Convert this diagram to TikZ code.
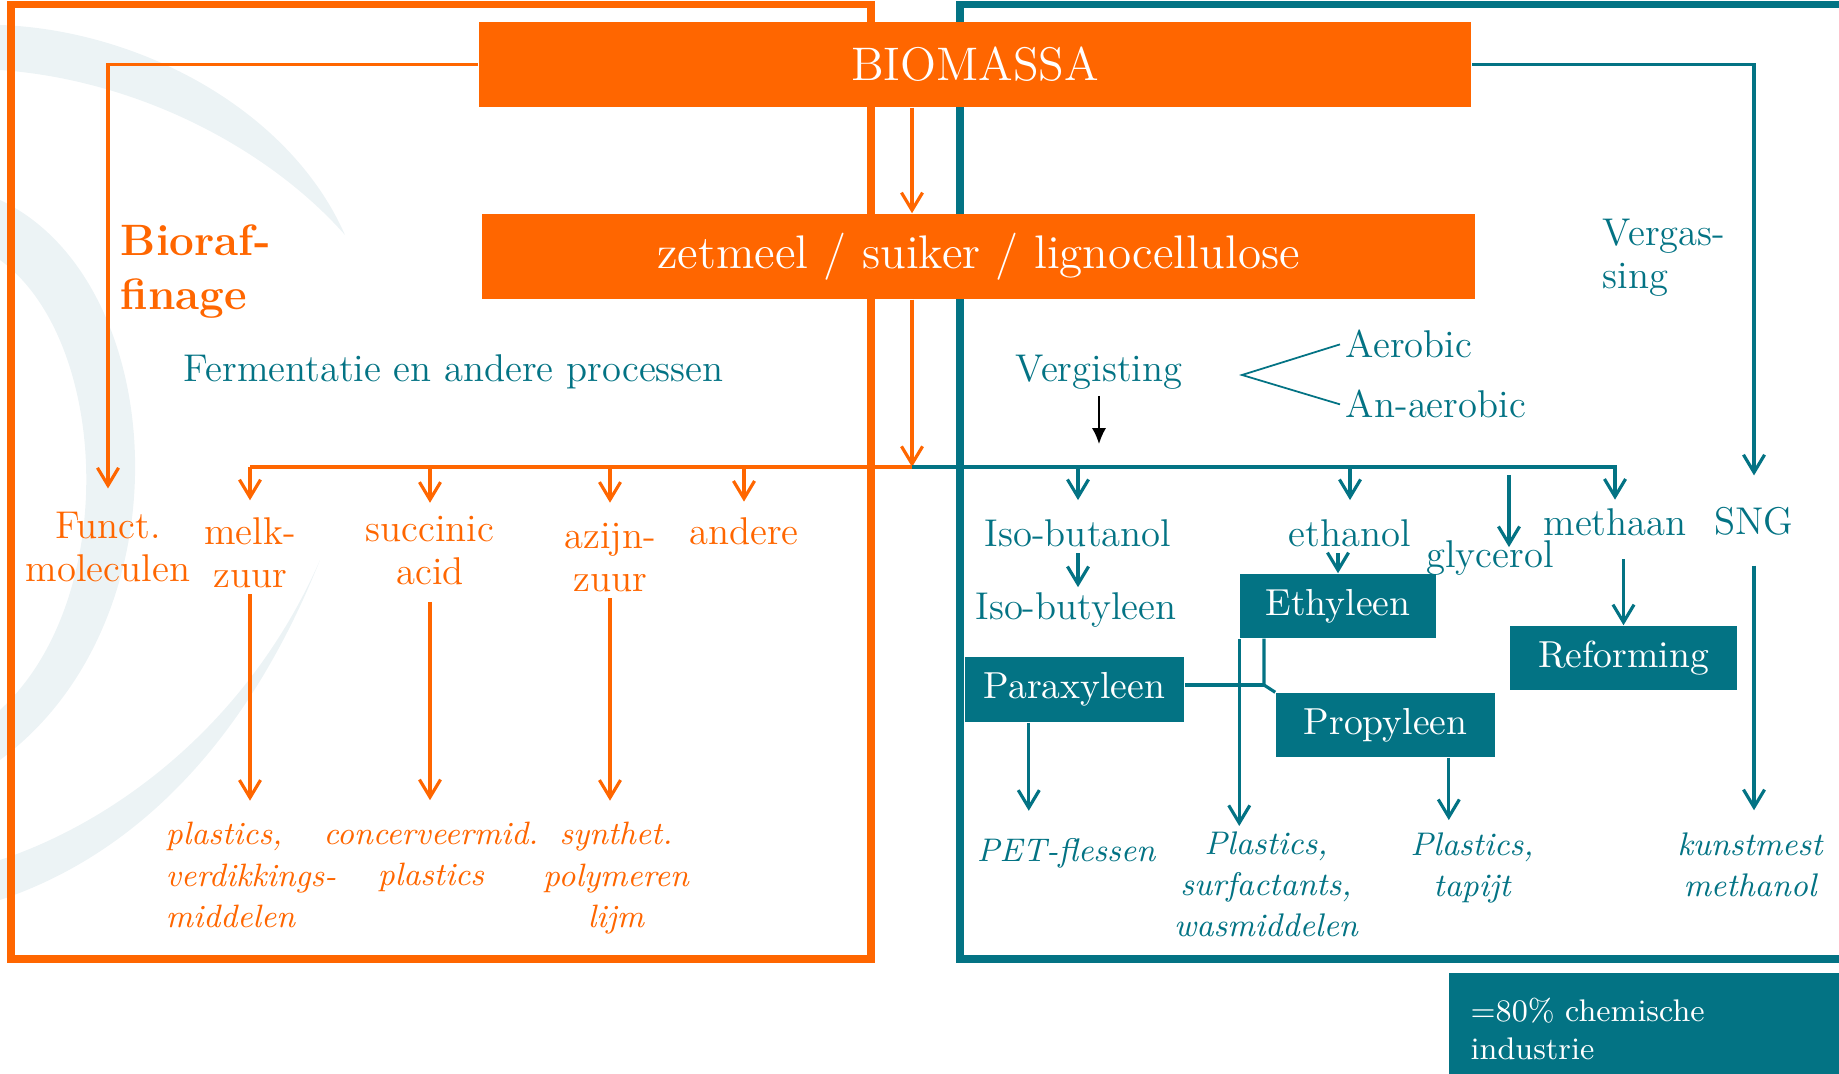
\documentclass[tikz,border=0pt]{standalone}
\usepackage{tikz}
\usetikzlibrary{arrows.meta}
\definecolor{bioorange}{RGB}{255,102,0}
\definecolor{bioteal}{RGB}{3,115,132}
\definecolor{swirl}{RGB}{236,243,245}
\tikzset{
	obox/.style={fill=bioorange, text=white, inner sep=0pt},
	tbox/.style={fill=bioteal, text=white, inner sep=0pt, font=\fontsize{10.7}{12}\selectfont},
	olabel/.style={text=bioorange, align=center, inner sep=1.5pt, font=\fontsize{11}{12.5}\selectfont},
	tlabel/.style={text=bioteal, align=center, inner sep=1.5pt, font=\fontsize{11}{12.5}\selectfont},
	oprod/.style={text=bioorange, align=center, inner sep=1.5pt, font=\fontsize{9.2}{11.8}\selectfont\itshape},
	tprod/.style={text=bioteal, align=center, inner sep=1.5pt, font=\fontsize{9.3}{11.7}\selectfont\itshape},
	oline/.style={draw=bioorange, line width=0.9pt},
	tline/.style={draw=bioteal, line width=0.9pt},
	oarr/.style={oline, -{Straight Barb[length=5pt,width=6pt]}},
	tarr/.style={tline, -{Straight Barb[length=5pt,width=6pt]}},
	barr/.style={draw=black, line width=0.45pt, -{Latex[length=4.5pt,width=4pt]}}
}

\begin{document}
\begin{tikzpicture}[x=0.01cm, y=-0.01cm]
			%%%%% START %%%%%
			\useasboundingbox (0,0) rectangle (1839,1074);
			
			% watermark
			\fill[swirl] (0,25) .. controls (140,30) and (290,110) .. (345,235) .. controls (270,150) and (140,80) .. (0,70) -- cycle;
			\fill[swirl] (0,200) .. controls (170,280) and (190,620) .. (0,760) -- (0,710) .. controls (120,600) and (110,340) .. (0,260) -- cycle;
			\fill[swirl] (0,860) .. controls (120,820) and (250,720) .. (320,560) .. controls (240,760) and (120,860) .. (0,900) -- cycle;
			
			% frames
			\draw[bioorange, line width=2pt] (11,5) rectangle (871,959);
			\draw[bioteal, line width=2pt] (960,5) rectangle (1860,959);
			
			\node[obox, minimum width=9.92cm, minimum height=0.85cm, font=\fontsize{13.4}{16}\selectfont] (bio) at (975,64.5) {BIOMASSA};
			\node[obox, minimum width=9.93cm, minimum height=0.85cm, font=\fontsize{13.4}{16}\selectfont] (zet) at (978.5,256.5) {zetmeel / suiker / lignocellulose};
			
			% left: bioraffinage
			\node[olabel, align=left, anchor=base west, font=\bfseries\fontsize{12.5}{15.6}\selectfont] (biora) at (115,310) {Bioraf-\\finage};
			\node[tlabel, anchor=base west] (ferm) at (178,382) {Fermentatie en andere processen};
			
			\node[olabel, anchor=base] (funct) at (108,582) {Funct.\\moleculen};
			\node[olabel, anchor=base] (melk) at (250,588) {melk-\\zuur};
			\node[olabel, anchor=base] (succ) at (430,585) {succinic\\acid};
			\node[olabel, anchor=base] (azijn) at (610,592) {azijn-\\zuur};
			\node[olabel, anchor=base] (andere) at (744,545) {andere};
			
			\node[oprod, align=left, anchor=base west] (plas1) at (160,928) {plastics,\\verdikkings-\\middelen};
			\node[oprod, anchor=base] (cons) at (431,886) {concerveermid.\\plastics};
			\node[oprod, anchor=base] (synth) at (616,928) {synthet.\\polymeren\\lijm};
			
			\coordinate (split) at (912,467);
			\draw[oarr, shorten >=4.9pt] (bio.west) -| (funct.north);
			\draw[oarr] (bio.south -| split) -- (zet.north -| split);
			\draw[oarr] (zet.south -| split) -- (split);
			\draw[oline] (split) -- (split -| melk);
			\draw[oarr, shorten >=3.1pt] (split -| melk) -- (melk.north);
			\draw[oarr, shorten >=2pt] (split -| succ) -- (succ.north);
			\draw[oarr, shorten >=4pt] (split -| azijn) -- (azijn.north);
			\draw[oarr, shorten >=3pt] (split -| andere) -- (andere.north);
			
			\draw[oarr, shorten >=4.5pt] (melk.south) -- (melk.south |- plas1.north);
			\draw[oarr, shorten <=3pt, shorten >=4.5pt] (succ.south) -- (succ.south |- cons.north);
			\draw[oarr, shorten >=4.5pt] (azijn.south) -- (azijn.south |- synth.north);
			
			% right: chemie
			\node[tlabel, align=left, anchor=base west] (vergas) at (1597,289) {Vergas-\\sing};
			\node[tlabel, anchor=base] (vergist) at (1099,382) {Vergisting};
			\node[tlabel, anchor=base west] (aer) at (1340,358) {Aerobic};
			\node[tlabel, anchor=base west] (anaer) at (1340,418) {An-aerobic};
			\coordinate (vtx) at (1242,375);
			\draw[bioteal, line width=0.5pt] (aer.west) -- (vtx) -- (anaer.west);
			\coordinate (vtip) at (1099,444);
			\draw[barr] (vergist.south) -- (vtip);
			
			\node[tlabel, anchor=base] (isobn) at (1078,547) {Iso-butanol};
			\node[tlabel, anchor=base] (ethan) at (1350,547) {ethanol};
			\node[tlabel, anchor=base] (glyc) at (1490,568) {glycerol};
			\node[tlabel, anchor=base] (meth) at (1615,536) {methaan};
			\node[tlabel, anchor=base] (sng) at (1754,535) {SNG};
			\node[tlabel, anchor=base] (isobl) at (1076,620) {Iso-butyleen};
			
			\node[tbox, minimum width=1.96cm, minimum height=0.64cm] (ethy) at (1338,606) {Ethyleen};
			\node[tbox, minimum width=2.19cm, minimum height=0.65cm] (para) at (1074.5,689.5) {Paraxyleen};
			\node[tbox, minimum width=2.19cm, minimum height=0.64cm] (prop) at (1385.5,725) {Propyleen};
			\node[tbox, minimum width=2.27cm, minimum height=0.64cm] (refo) at (1623.5,658) {Reforming};
			
			\node[tprod, anchor=base] (pet) at (1066,862) {PET-flessen};
			\node[tprod, anchor=base] (plas2) at (1266,937) {Plastics,\\surfactants,\\wasmiddelen};
			\node[tprod, anchor=base] (plas3) at (1472,897) {Plastics,\\tapijt};
			\node[tprod, anchor=base] (kunst) at (1750,897) {kunstmest\\methanol};
			
			\draw[tarr, shorten >=7.5pt] (bio.east) -| (sng.north);
			\draw[tarr, shorten >=1pt] (split) -| (meth.north);
			\draw[tarr, shorten >=4pt] (split -| isobn) -- (isobn.north);
			\draw[tarr, shorten >=4pt] (split -| ethan) -- (ethan.north);
			\coordinate (gtop) at (1509,475);
			\draw[tarr, shorten >=-3.4pt] (gtop) -- (gtop |- glyc.north);
			
			\draw[tarr] (isobn.south) -- (isobn.south |- isobl.north);
			\draw[tarr] (ethy.north |- ethan.south) -- (ethy.north);
			\draw[tarr, shorten <=4.8pt] (refo.north |- meth.south) -- (refo.north);
			\draw[tarr, shorten <=6.8pt, shorten >=4.8pt] (sng.south) -- (sng.south |- kunst.north);
			
			\coordinate (knot) at (1264,685);
			\draw[tline] (para.east |- knot) -- (knot);
			\draw[tline] (ethy.south -| knot) -- (knot) -- (prop.north west);
			\draw[tarr] (ethy.south west) -- (ethy.south west |- plas2.north);
			\draw[tarr, shorten >=6.3pt] ([xshift=-13pt]para.south) -- ([xshift=-13pt]para.south |- pet.north);
			\draw[tarr, shorten >=2pt] ([xshift=18pt]prop.south) -- ([xshift=18pt]prop.south |- plas3.north);
			
			\node[tbox, anchor=north west, text width=3.6cm, inner xsep=0.22cm, minimum height=1.12cm, align=left, font=\fontsize{8.9}{10.8}\selectfont] (share) at (1448,972) {=80\% chemische\\industrie};
			
			%%%%% END %%%%%
\end{tikzpicture}
\end{document}
